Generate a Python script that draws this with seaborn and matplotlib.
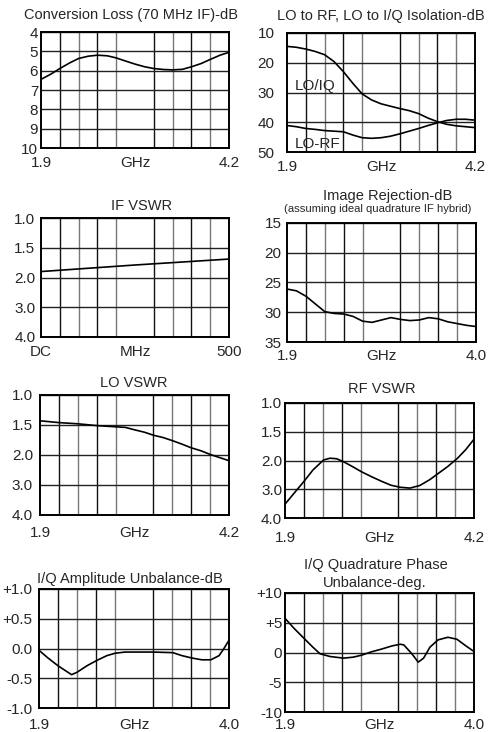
import numpy as np
import matplotlib
matplotlib.use('Agg')
import matplotlib.pyplot as plt
import seaborn as sns

# Conversion loss (70 MHz IF), dB
cl_ghz = [1.90, 2.02, 2.13, 2.25, 2.36, 2.48, 2.59, 2.71, 2.82, 2.94, 3.05,
          3.17, 3.28, 3.40, 3.51, 3.63, 3.74, 3.86, 3.97, 4.09, 4.20]
cl_db = [6.45, 6.18, 5.89, 5.60, 5.37, 5.25, 5.20, 5.23, 5.34, 5.51, 5.66,
         5.80, 5.89, 5.94, 5.96, 5.93, 5.80, 5.63, 5.42, 5.20, 5.05]

# Isolation, dB
iso_ghz = [1.900, 2.015, 2.130, 2.245, 2.360, 2.475, 2.590, 2.705, 2.820, 2.935, 3.050,
           3.165, 3.280, 3.395, 3.510, 3.625, 3.740, 3.855, 3.970, 4.085, 4.200]
lo_iq = [14.5, 14.8, 15.4, 16.2, 17.3, 19.6, 23.0, 26.9, 30.5, 32.5, 33.8,
         34.6, 35.4, 36.1, 37.1, 38.6, 39.8, 40.7, 41.2, 41.5, 41.8]
lo_rf = [41.1, 41.5, 42.1, 42.4, 42.8, 43.0, 43.2, 44.3, 45.2, 45.4, 45.2,
         44.7, 43.9, 43.0, 42.1, 41.1, 40.2, 39.4, 39.0, 39.0, 39.3]

# IF VSWR
if_mhz = [0, 250, 500]
if_vswr = [1.90, 1.79, 1.69]

# Image rejection, dB
ir_ghz = [1.900, 2.005, 2.110, 2.215, 2.320, 2.425, 2.530, 2.635, 2.740, 2.845, 2.950,
          3.055, 3.160, 3.265, 3.370, 3.475, 3.580, 3.685, 3.790, 3.895, 4.000]
ir_db = [26.1, 26.4, 27.3, 28.6, 29.9, 30.2, 30.3, 30.7, 31.5, 31.7, 31.3,
         30.9, 31.2, 31.4, 31.3, 30.9, 31.1, 31.6, 31.9, 32.2, 32.4]

# LO VSWR
lo_ghz = [1.90, 2.13, 2.36, 2.59, 2.82, 2.94, 3.05, 3.17, 3.28, 3.40, 3.51,
          3.63, 3.74, 3.86, 3.97, 4.09, 4.20]
lo_vswr = [1.43, 1.46, 1.48, 1.51, 1.53, 1.54, 1.58, 1.62, 1.67, 1.71, 1.76,
           1.82, 1.88, 1.93, 1.99, 2.09, 2.19]

# RF VSWR
rf_ghz = [1.90, 2.01, 2.13, 2.24, 2.37, 2.45, 2.53, 2.61, 2.72, 2.83, 2.95,
          3.08, 3.19, 3.30, 3.42, 3.54, 3.66, 3.77, 3.88, 4.00, 4.10, 4.20]
rf_vswr = [3.52, 3.14, 2.73, 2.33, 1.99, 1.96, 1.97, 2.04, 2.21, 2.39, 2.56,
           2.73, 2.86, 2.93, 2.96, 2.87, 2.67, 2.44, 2.21, 1.96, 1.81, 1.63]

# I/Q amplitude unbalance, dB
amp_ghz = [1.90, 2.00, 2.11, 2.21, 2.26, 2.32, 2.43, 2.54, 2.65, 2.74, 2.85,
           2.96, 3.17, 3.38, 3.48, 3.59, 3.70, 3.80, 3.89, 3.94, 4.00]
amp_db = [-0.03, -0.16, -0.29, -0.39, -0.44, -0.40, -0.29, -0.20, -0.12, -0.08, -0.06,
          -0.06, -0.06, -0.07, -0.12, -0.16, -0.19, -0.19, -0.12, -0.01, 0.14]

# I/Q quadrature phase unbalance, deg
ph_ghz = [1.90, 2.00, 2.11, 2.21, 2.29, 2.40, 2.55, 2.66, 2.75, 2.86, 2.97, 3.09,
          3.18, 3.22, 3.31, 3.38, 3.44, 3.51, 3.60, 3.71, 3.81, 3.91, 4.00]
ph_deg = [5.74, 4.07, 2.40, 0.89, -0.22, -0.67, -0.95, -0.78, -0.45, 0.11, 0.56, 1.11,
          1.39, 1.28, -0.22, -1.62, -0.95, 0.89, 2.12, 2.56, 2.23, 1.11, 0.17]

vswr_ticks = [1.0, 1.5, 2.0, 3.0, 4.0]
vswr_labels = ['1.0', '1.5', '2.0', '3.0', '4.0']

sns.set_style('white')
plt.rcParams['font.family'] = ['Liberation Sans', 'DejaVu Sans']

W, H = 498, 732
fig = plt.figure(figsize=(W / 100, H / 100), dpi=100)


def box(l, t, r, b):
    return fig.add_axes([l / W, 1 - b / H, (r - l) / W, (b - t) / H])


def vswr_fwd(v):
    return np.interp(v, vswr_ticks, [0, 1, 2, 3, 4])


def vswr_inv(p):
    return np.interp(p, [0, 1, 2, 3, 4], vswr_ticks)


def frame(ax, x0, x1, xlabels, yticks, ylabels, ypad=3, xpad=6):
    ax.set_xlim(x0, x1)
    ax.set_xticks([x0, (x0 + x1) / 2, x1])
    ax.set_xticklabels(xlabels)
    ax.set_xticks(np.linspace(x0, x1, 11)[1:-1], minor=True)
    ax.set_yticks(yticks)
    ax.set_yticklabels(ylabels)
    ax.tick_params(which='both', length=0)
    ax.tick_params(axis='x', pad=xpad, labelsize=11)
    ax.tick_params(axis='y', pad=ypad, labelsize=11)
    ax.set_xlabel('')
    ax.set_ylabel('')
    ax.grid(False)
    ax.xaxis.grid(True, which='minor', color='#222', linewidth=1.0)
    ax.yaxis.grid(True, which='major', color='#222', linewidth=1.0)
    for i, t in enumerate(ax.xaxis.get_minor_ticks()):
        t.gridline.set_color('#111' if i % 2 == 0 else '#777')
    for s in ax.spines.values():
        s.set_color('black')
        s.set_linewidth(1.4)


def title(x, y, s, size=10.5):
    fig.text(x / W, 1 - y / H, s, ha='center', va='center', fontsize=size)


kw = dict(color='black', linewidth=1.2)

# 1 conversion loss
ax = box(41, 32, 229, 148)
sns.lineplot(x=cl_ghz, y=cl_db, ax=ax, **kw)
ax.set_ylim(10, 4)
frame(ax, 1.9, 4.2, ['1.9', 'GHz', '4.2'], range(4, 11), [str(v) for v in range(4, 11)], ypad=2)
title(131, 15, 'Conversion Loss (70 MHz IF)-dB')

# 2 isolation
ax = box(287, 33, 475, 152)
sns.lineplot(x=iso_ghz, y=lo_iq, ax=ax, **kw)
sns.lineplot(x=iso_ghz, y=lo_rf, ax=ax, **kw)
ax.set_ylim(50, 10)
frame(ax, 1.9, 4.2, ['1.9', 'GHz', '4.2'], [10, 20, 30, 40, 50], ['10', '20', '30', '40', '50'], ypad=9)
ax.text(1.99, 27.8, 'LO/IQ', ha='left', va='center', fontsize=11)
ax.text(1.99, 47.3, 'LO-RF', ha='left', va='center', fontsize=11)
title(381, 16, 'LO to RF, LO to I/Q Isolation-dB')

# 3 IF VSWR
ax = box(41, 218, 229, 337)
sns.lineplot(x=if_mhz, y=if_vswr, ax=ax, **kw)
ax.set_yscale('function', functions=(vswr_fwd, vswr_inv))
ax.set_ylim(4, 1)
frame(ax, 0, 500, ['DC', 'MHz', '500'], vswr_ticks, vswr_labels, ypad=4)
title(142, 206, 'IF VSWR')

# 4 image rejection
ax = box(287, 223, 476, 342)
sns.lineplot(x=ir_ghz, y=ir_db, ax=ax, **kw)
ax.set_ylim(35, 15)
frame(ax, 1.9, 4.0, ['1.9', 'GHz', '4.0'], [15, 20, 25, 30, 35], ['15', '20', '25', '30', '35'], ypad=4, xpad=5)
title(388, 196, 'Image Rejection-dB')
title(378, 209, '(assuming ideal quadrature IF hybrid)', size=8.1)

# 5 LO VSWR
ax = box(40, 395, 229, 515)
sns.lineplot(x=lo_ghz, y=lo_vswr, ax=ax, **kw)
ax.set_yscale('function', functions=(vswr_fwd, vswr_inv))
ax.set_ylim(4, 1)
frame(ax, 1.9, 4.2, ['1.9', 'GHz', '4.2'], vswr_ticks, vswr_labels, ypad=5, xpad=8)
title(134, 383, 'LO VSWR')

# 6 RF VSWR
ax = box(285, 403, 474, 518)
sns.lineplot(x=rf_ghz, y=rf_vswr, ax=ax, **kw)
ax.set_yscale('function', functions=(vswr_fwd, vswr_inv))
ax.set_ylim(4, 1)
frame(ax, 1.9, 4.2, ['1.9', 'GHz', '4.2'], vswr_ticks, vswr_labels, ypad=2, xpad=9)
title(382, 389, 'RF VSWR')

# 7 amplitude unbalance
ax = box(39, 589, 229, 708)
sns.lineplot(x=amp_ghz, y=amp_db, ax=ax, **kw)
ax.set_ylim(-1, 1)
frame(ax, 1.9, 4.0, ['1.9', 'GHz', '4.0'], [1, 0.5, 0, -0.5, -1],
      ['+1.0', '+0.5', '0.0', '-0.5', '-1.0'], ypad=5, xpad=7)
title(130, 579, 'I/Q Amplitude Unbalance-dB')

# 8 phase unbalance
ax = box(285, 593, 474, 712)
sns.lineplot(x=ph_ghz, y=ph_deg, ax=ax, **kw)
ax.set_ylim(-10, 10)
frame(ax, 1.9, 4.0, ['1.9', 'GHz', '4.0'], [10, 5, 0, -5, -10],
      ['+10', '+5', '0', '-5', '-10'], ypad=2, xpad=4)
title(376, 565, 'I/Q Quadrature Phase')
title(375, 583, 'Unbalance-deg.')

fig.savefig('out.png', dpi=100)
